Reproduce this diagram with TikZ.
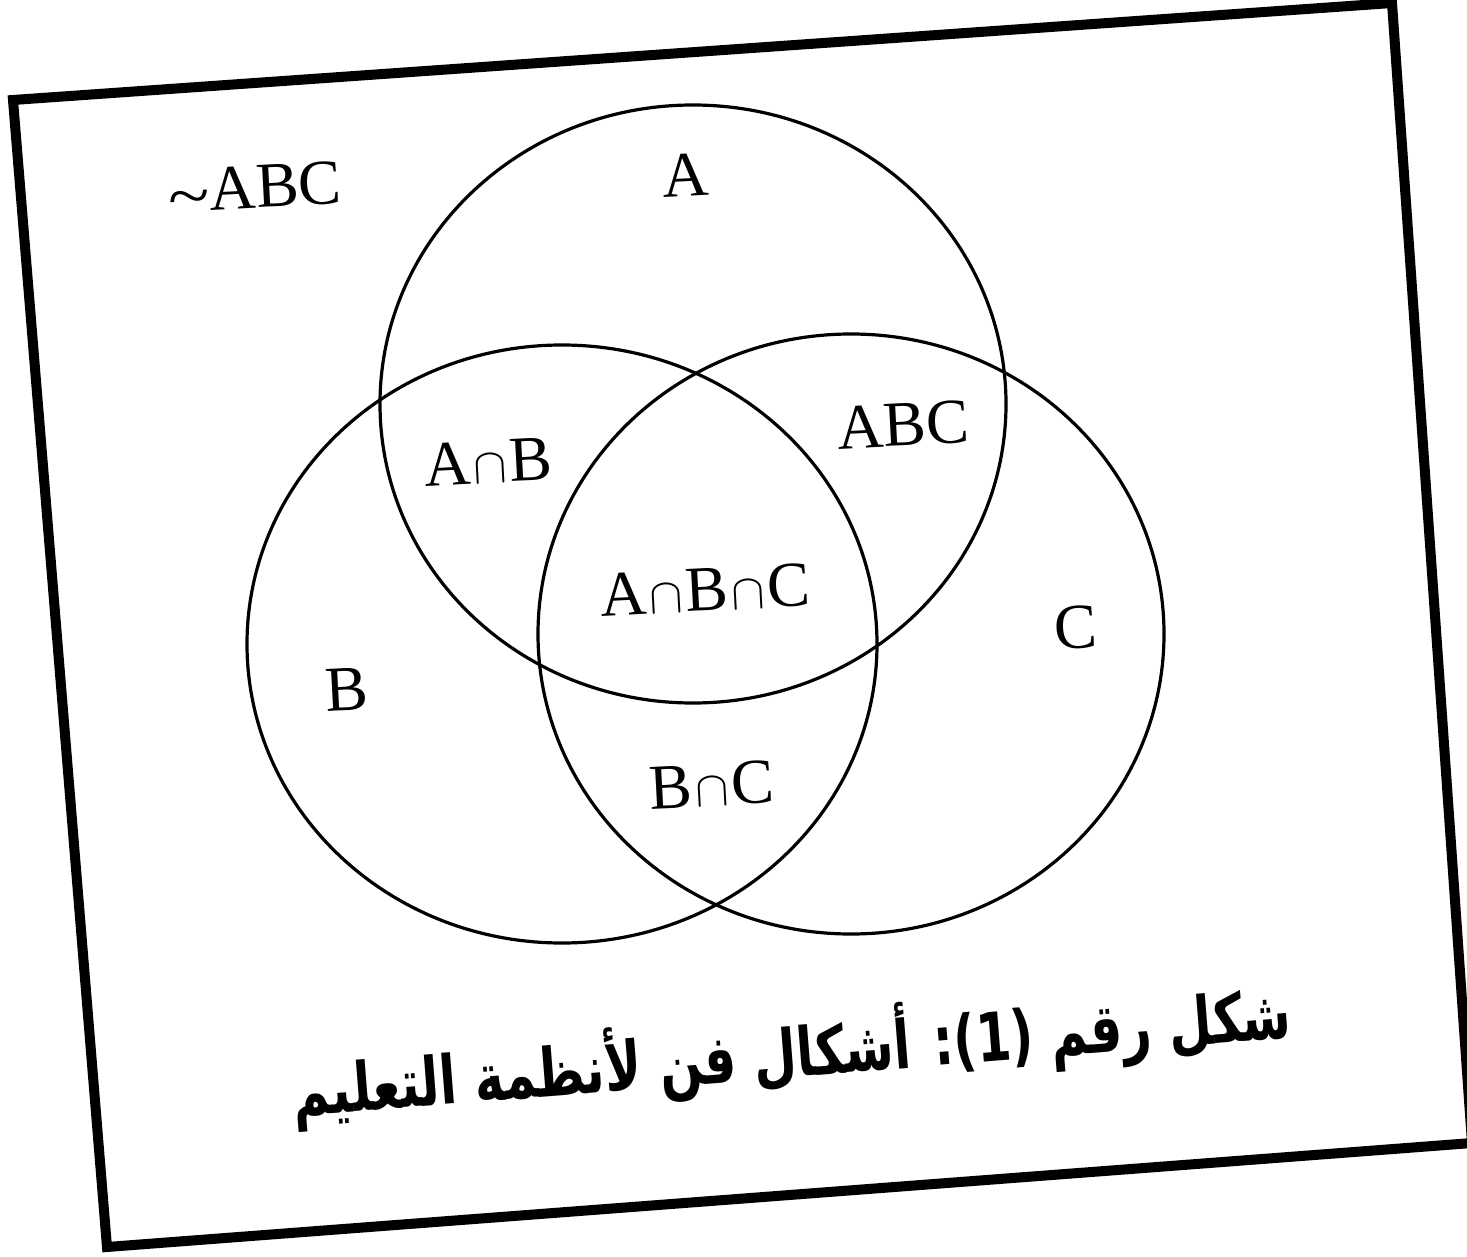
\documentclass[tikz,border=0pt]{standalone}
\usepackage{fontspec}
\setmainfont{Liberation Serif}
\newfontfamily\arabicfont[Script=Arabic]{DejaVu Sans}
\TeXXeTstate=1
\newcommand{\icap}{\kern1.5pt$\cap$\kern1.5pt}
\begin{document}
\begin{tikzpicture}[x=0.5pt,y=-0.5pt,
  frameline/.style={line width=5pt, line join=miter},
  setline/.style={line width=1.6pt},
  lbl/.style={font=\fontsize{32}{36}\selectfont, inner sep=0pt, rotate=3}]
\useasboundingbox (0,0) rectangle (1467,1257);
\begin{scope}
  \clip (0,0) rectangle (1467,1257);
  \coordinate (tl) at (13,100);
  \coordinate (tr) at (1392,3);
  \coordinate (br) at (1472,1143);
  \coordinate (bl) at (107,1247);
  \draw[frameline] (tl) -- (tr) -- (br) -- (bl) -- cycle;
\end{scope}
% sets
\draw[setline] (693,404) ellipse [x radius=313, y radius=299];
\draw[setline] (562,644) ellipse [x radius=315, y radius=299];
\draw[setline] (851,634) ellipse [x radius=313, y radius=300];
% labels
\node[lbl] (notabc) at (255,190) {\raisebox{-0.1em}{\scalebox{1.2}[1]{\textasciitilde}}ABC};
\node[lbl] (a) at (685,175) {A};
\node[lbl] (abc) at (903,425) {ABC};
\node[lbl] (ab) at (488,462) {A\icap B};
\node[lbl] (abcint) at (705,590) {A\icap B\icap C};
\node[lbl] (c) at (1076,628) {C};
\node[lbl] (b) at (347,690) {B};
\node[lbl] (bc) at (712,785) {B\icap C};
% caption
\node[rotate=4.5, inner sep=0pt, font=\arabicfont\bfseries\fontsize{32}{40}\selectfont] (cap) at (792,1052)
  {\scalebox{0.78}[1.05]{\beginR شكل رقم (1): أشكال فن لأنظمة التعليم\endR}};
\end{tikzpicture}
\end{document}
